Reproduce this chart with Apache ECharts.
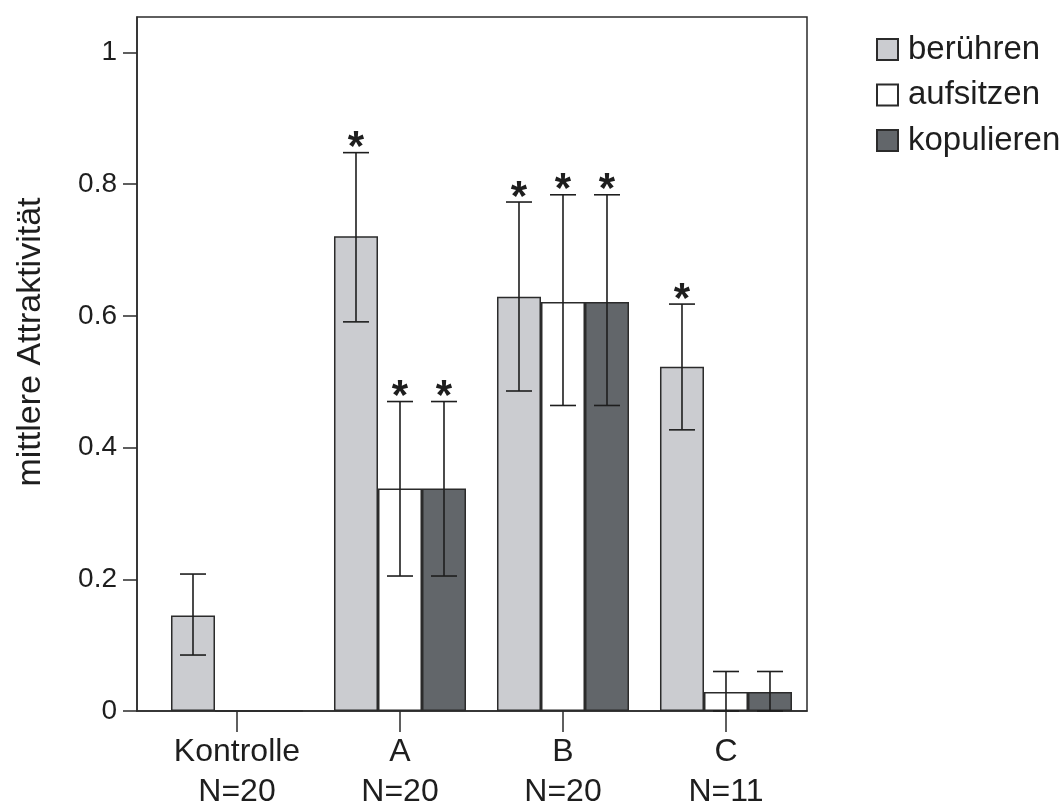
<!DOCTYPE html>
<html>
<head>
<meta charset="utf-8">
<script src="https://cdn.jsdelivr.net/npm/echarts@6/dist/echarts.min.js"></script>
<style>
  html, body { margin: 0; background: #fff; }
  #chart { width: 1064px; height: 807px; }
</style>
</head>
<body>
<div id="chart"></div>
<script>
// Gruppen (x-Positionen 0..3) und Beschriftungen
const groupLabels = ['Kontrolle\nN=20', 'A\nN=20', 'B\nN=20', 'C\nN=11'];
const groupPos = [0, 1, 2, 3];
const seriesNames = ['berühren', 'aufsitzen', 'kopulieren'];

// Mittelwerte und Fehlerbalken
const beruehrenMean = [0.145, 0.721, 0.629, 0.523];
const beruehrenLow  = [0.085, 0.591, 0.486, 0.427];
const beruehrenHigh = [0.208, 0.848, 0.773, 0.618];
const beruehrenSig  = [0, 1, 1, 1];

const aufsitzenMean = [0, 0.338, 0.621, 0.029];
const aufsitzenLow  = [null, 0.205, 0.464, 0];
const aufsitzenHigh = [null, 0.470, 0.784, 0.060];
const aufsitzenSig  = [0, 1, 1, 0];

const kopulierenMean = [0, 0.338, 0.621, 0.029];
const kopulierenLow  = [null, 0.205, 0.464, 0];
const kopulierenHigh = [null, 0.470, 0.784, 0.060];
const kopulierenSig  = [0, 1, 1, 0];

const yTicks = [0, 0.2, 0.4, 0.6, 0.8, 1];

const colors = ['#cbccd0', '#ffffff', '#62666a'];
const edge = '#2b2b2b';
const barWidth = 44;
const offsets = [-barWidth, 0, barWidth];
const font = 'Liberation Sans';

const chart = echarts.init(document.getElementById('chart'));

function barSeries(i, means) {
    return {
        name: seriesNames[i],
        type: 'bar',
        barWidth: barWidth,
        barGap: '0%',
        data: groupPos.map((x, k) => [x, means[k]]),
        itemStyle: { color: colors[i], borderColor: edge, borderWidth: 1.5 },
        z: 2
    };
}

function errorSeries(i, lows, highs, sig) {
    const data = [];
    groupPos.forEach((x, k) => {
        if (lows[k] !== null) data.push([x, lows[k], highs[k], sig[k]]);
    });
    return {
        type: 'custom',
        data: data,
        encode: { x: 0, y: [1, 2] },
        z: 5,
        silent: true,
        renderItem: function (params, api) {
            const lo = api.coord([api.value(0), api.value(1)]);
            const hi = api.coord([api.value(0), api.value(2)]);
            const x = lo[0] + offsets[i];
            const cap = 13;
            const style = { stroke: '#1e1e1e', lineWidth: 1.6 };
            const children = [
                { type: 'line', shape: { x1: x, y1: lo[1], x2: x, y2: hi[1] }, style: style },
                { type: 'line', shape: { x1: x - cap, y1: hi[1], x2: x + cap, y2: hi[1] }, style: style },
                { type: 'line', shape: { x1: x - cap, y1: lo[1], x2: x + cap, y2: lo[1] }, style: style }
            ];
            if (api.value(3)) {
                children.push({
                    type: 'text',
                    style: {
                        text: '*', x: x, y: hi[1] - 4,
                        align: 'center', verticalAlign: 'middle',
                        font: 'bold 42px "' + font + '"', fill: '#1e1e1e'
                    }
                });
            }
            return { type: 'group', children: children };
        }
    };
}

const option = {
    animation: false,
    backgroundColor: '#fff',
    textStyle: { fontFamily: font },
    grid: {
        left: 137, right: 257, top: 17, bottom: 96,
        outerBoundsMode: 'none',
        containLabel: false,
        show: true, borderColor: edge, borderWidth: 1.5, backgroundColor: 'transparent'
    },
    legend: {
        orient: 'vertical',
        left: 876, top: 33,
        padding: 0,
        itemWidth: 21, itemHeight: 21, itemGap: 12.5,
        icon: 'rect',
        data: seriesNames,
        textStyle: { fontSize: 33, color: '#1e1e1e', fontFamily: font, padding: [0, 0, 0, 5] }
    },
    xAxis: {
        type: 'value',
        min: -0.6135, max: 3.497,
        splitLine: { show: false },
        axisLine: { show: true, onZero: false, lineStyle: { color: edge, width: 1.5 } },
        axisTick: { show: true, length: 21, customValues: groupPos, lineStyle: { color: edge, width: 1.5 } },
        axisLabel: {
            customValues: groupPos,
            formatter: v => groupLabels[Math.round(v)],
            fontSize: 32, lineHeight: 40, color: '#1e1e1e', margin: 21
        }
    },
    yAxis: {
        type: 'value',
        min: 0, max: 1.054,
        splitLine: { show: false },
        axisLine: { show: true, onZero: false, lineStyle: { color: edge, width: 1.5 } },
        axisTick: { show: true, length: 14, customValues: yTicks, lineStyle: { color: edge, width: 1.5 } },
        axisLabel: {
            customValues: yTicks,
            formatter: v => String(Math.round(v * 10) / 10),
            fontSize: 28, color: '#1e1e1e', margin: 20
        },
        name: 'mittlere Attraktivität',
        nameLocation: 'middle',
        nameGap: 89,
        nameTextStyle: { fontSize: 34, color: '#1e1e1e', padding: [0, 0, 0, 44] }
    },
    series: [
        barSeries(0, beruehrenMean),
        barSeries(1, aufsitzenMean),
        barSeries(2, kopulierenMean),
        errorSeries(0, beruehrenLow, beruehrenHigh, beruehrenSig),
        errorSeries(1, aufsitzenLow, aufsitzenHigh, aufsitzenSig),
        errorSeries(2, kopulierenLow, kopulierenHigh, kopulierenSig)
    ]
};

chart.setOption(option);
</script>
</body>
</html>
